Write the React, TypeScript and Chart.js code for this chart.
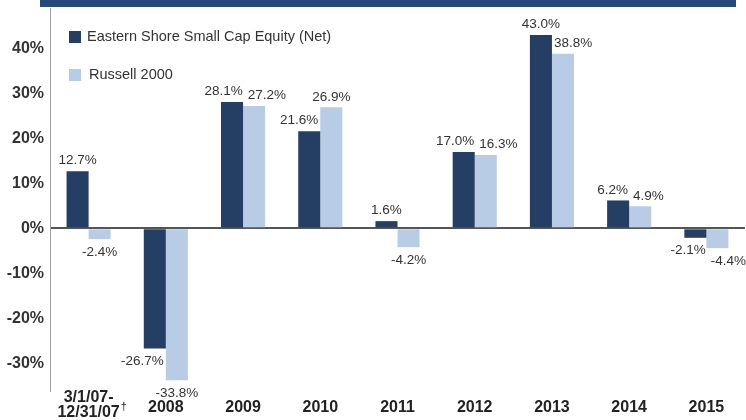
import React, { useEffect, useRef } from "react";
import { Chart, registerables } from "chart.js";

Chart.register(...registerables);

const categories: (string | string[])[] = [
  ["3/1/07-", "12/31/07†"],
  "2008",
  "2009",
  "2010",
  "2011",
  "2012",
  "2013",
  "2014",
  "2015",
];
const easternShore = [12.7, -26.7, 28.1, 21.6, 1.6, 17.0, 43.0, 6.2, -2.1];
const russell2000 = [-2.4, -33.8, 27.2, 26.9, -4.2, 16.3, 38.8, 4.9, -4.4];
const seriesNames = ["Eastern Shore Small Cap Equity (Net)", "Russell 2000"];
const yTicks = [-30, -20, -10, 0, 10, 20, 30, 40];

const DARK = "#243f63";
const LIGHT = "#b8cde5";
const FONT = "'Liberation Sans', Arial, sans-serif";

function barRect(el: any) {
  const half = el.width / 2;
  return {
    l: el.x - half,
    r: el.x + half,
    t: Math.min(el.y, el.base),
    b: Math.max(el.y, el.base),
  };
}

function hits(x: number, y: number, w: number, rect: any) {
  const h = 7;
  return x + w / 2 > rect.l && x - w / 2 < rect.r && y + h > rect.t && y - h < rect.b;
}

const decorPlugin = {
  id: "decor",
  beforeDraw(chart: any) {
    const ctx = chart.ctx;
    ctx.save();
    ctx.fillStyle = "#ffffff";
    ctx.fillRect(0, 0, chart.width, chart.height);
    ctx.fillStyle = "#25497a";
    ctx.fillRect(40, 0, 696, 7);
    ctx.restore();
  },
  afterDatasetsDraw(chart: any) {
    const ctx = chart.ctx;
    ctx.save();
    ctx.font = `13.5px ${FONT}`;
    ctx.fillStyle = "#333333";
    ctx.textAlign = "center";
    ctx.textBaseline = "middle";
    const m0 = chart.getDatasetMeta(0);
    const m1 = chart.getDatasetMeta(1);
    const d0 = chart.data.datasets[0].data;
    const d1 = chart.data.datasets[1].data;
    d0.forEach((_: any, i: number) => {
      const items = [
        { v: d0[i], el: m0.data[i] },
        { v: d1[i], el: m1.data[i] },
      ].map((o) => {
        const text = o.v.toFixed(1) + "%";
        return {
          text,
          w: ctx.measureText(text).width,
          x: o.el.x,
          y: o.v >= 0 ? o.el.y - 10.5 : o.el.y + 13,
          rect: barRect(o.el),
        };
      });
      const [a, b] = items;
      if (Math.abs(a.y - b.y) < 16) {
        const need = (a.w + b.w) / 2 + 5;
        const extra = need - (b.x - a.x);
        if (extra > 0) {
          a.x -= extra * 0.4;
          b.x += extra * 0.6;
        }
      }
      if (hits(a.x, a.y, a.w, b.rect)) a.x = b.rect.l - 2 - a.w / 2;
      if (hits(b.x, b.y, b.w, a.rect)) b.x = a.rect.r + 2 + b.w / 2;
      items.forEach((it) => ctx.fillText(it.text, it.x, it.y));
    });
    // legend
    const legendY = [37, 75];
    chart.data.datasets.forEach((ds: any, di: number) => {
      ctx.fillStyle = ds.backgroundColor;
      ctx.fillRect(69, legendY[di] - 6, 12, 12);
      ctx.fillStyle = "#333333";
      ctx.textAlign = "left";
      ctx.font = `14.5px ${FONT}`;
      ctx.fillText(ds.label, 87 + di * 2, legendY[di]);
    });
    // x category labels
    const xs = chart.scales.x;
    ctx.fillStyle = "#222222";
    ctx.textBaseline = "middle";
    chart.data.labels.forEach((lab: any, i: number) => {
      const x = xs.getPixelForValue(i);
      ctx.font = `bold 16px ${FONT}`;
      ctx.textAlign = "center";
      if (Array.isArray(lab)) {
        lab.forEach((line: string, li: number) => {
          const y = 398 + li * 15;
          if (line.endsWith("†")) {
            const main = line.slice(0, -1);
            const w = ctx.measureText(main).width;
            ctx.fillText(main, x, y);
            ctx.font = `11px ${FONT}`;
            ctx.textAlign = "left";
            ctx.fillText("†", x + w / 2 + 1, y - 6);
            ctx.font = `bold 16px ${FONT}`;
            ctx.textAlign = "center";
          } else {
            ctx.fillText(line, x, y);
          }
        });
      } else {
        ctx.fillText(lab, x, 408);
      }
    });
    ctx.restore();
  },
};

export default function App() {
  const ref = useRef<HTMLCanvasElement | null>(null);
  useEffect(() => {
    document.body.style.margin = "0";
    const chart = new Chart(ref.current!, {
      type: "bar",
      data: {
        labels: categories,
        datasets: [
          {
            label: seriesNames[0],
            data: easternShore,
            backgroundColor: DARK,
            borderWidth: 0,
            barPercentage: 1,
            categoryPercentage: 0.571,
          },
          {
            label: seriesNames[1],
            data: russell2000,
            backgroundColor: LIGHT,
            borderWidth: 0,
            barPercentage: 1,
            categoryPercentage: 0.571,
          },
        ],
      },
      options: {
        animation: false,
        responsive: true,
        maintainAspectRatio: false,
        layout: { padding: { top: 8, right: 1, left: 0, bottom: 0 } },
        plugins: {
          legend: { display: false },
          tooltip: { enabled: false },
        },
        scales: {
          x: {
            grid: { display: false },
            border: { display: false },
            ticks: { display: false },
            afterFit(scale: any) {
              scale.height = 28;
              scale.paddingLeft = 0;
              scale.paddingRight = 0;
            },
          },
          y: {
            min: -36.4,
            max: 49,
            afterBuildTicks(scale: any) {
              scale.ticks = yTicks.map((v) => ({ value: v }));
            },
            afterFit(scale: any) {
              scale.width = 50;
              scale.paddingTop = 0;
              scale.paddingBottom = 0;
            },
            grid: {
              drawTicks: false,
              color: (c: any) => (c.tick && c.tick.value === 0 ? "#555555" : "rgba(0,0,0,0)"),
              lineWidth: (c: any) => (c.tick && c.tick.value === 0 ? 2 : 0),
            },
            border: { display: true, color: "#a0a0a0", width: 1 },
            ticks: {
              color: "#333333",
              font: { family: FONT, size: 16, weight: "bold" },
              padding: 6,
              callback: (v: any) => `${v}%`,
            },
          },
        },
      },
      plugins: [decorPlugin],
    });
    return () => chart.destroy();
  }, []);
  return (
    <div style={{ width: 746, height: 420, position: "relative" }}>
      <canvas ref={ref} />
    </div>
  );
}
